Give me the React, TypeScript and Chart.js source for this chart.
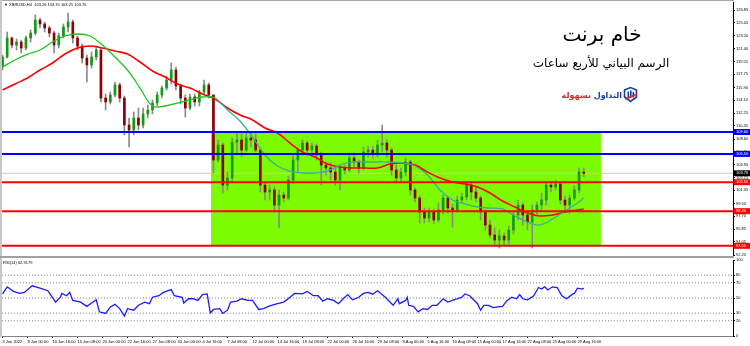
import React, { useEffect, useRef } from "react";
import { Chart, registerables } from "chart.js";

Chart.register(...registerables);

// ---------- data (XBRUSD H4, one drawn candle per 3 H4 bars) ----------
const opens = [
  118.79, 120.21, 122.9, 121.9, 122.33, 121.48, 122.9, 123.6, 125.44, 124.88,
  124.31, 123.6, 121.9, 123.18, 124.45, 125.16, 122.9, 121.76, 120.07, 119.08,
  120.21, 121.2, 114.41, 113.84, 114.83, 116.25, 114.41, 110.59, 109.88, 111.58,
  110.59, 112.15, 112.71, 113.7, 114.83, 115.82, 116.96, 118.37, 116.11, 114.41,
  112.99, 114.55, 113.84, 115.26, 116.25, 114.83, 105.64, 107.76, 102.1, 103.09,
  108.19, 108.47, 107.05, 108.75, 108.47, 107.05, 102.1, 101.11, 101.4, 99.26,
  100.69, 100.26, 102.81, 105.64, 107.05, 108.04, 107.05, 107.62, 106.35, 104.93,
  104.51, 103.94, 102.81, 104.51, 104.23, 105.92, 105.36, 104.51, 106.77, 107.05,
  106.63, 107.76, 108.04, 107.05, 104.23, 103.09, 103.94, 105.36, 101.4, 100.26,
  98.29, 97.44, 98.29, 97.15, 98.57, 100.26, 98.85, 98.57, 99.98, 100.41,
  102.1, 101.11, 100.26, 98.29, 96.45, 95.03, 94.32, 94.89, 94.32, 95.74,
  97.86, 99.26, 97.86, 96.87, 98.57, 99.26, 99.98, 102.1, 101.82, 102.25,
  99.98, 99.26, 100.26, 101.4, 103.94,
];
const closes = [
  120.21, 122.9, 121.9, 122.33, 121.48, 122.9, 123.6, 125.44, 124.88, 124.31,
  123.6, 121.9, 123.18, 124.45, 125.16, 122.9, 121.76, 120.07, 119.08, 120.21,
  121.2, 114.41, 113.84, 114.83, 116.25, 114.41, 110.59, 109.88, 111.58, 110.59,
  112.15, 112.71, 113.7, 114.83, 115.82, 116.96, 118.37, 116.11, 114.41, 112.99,
  114.55, 113.84, 115.26, 116.25, 114.83, 105.64, 107.76, 102.1, 103.09, 108.19,
  108.47, 107.05, 108.75, 108.47, 107.05, 102.1, 101.11, 101.4, 99.26, 100.69,
  100.26, 102.81, 105.64, 107.05, 108.04, 107.05, 107.62, 106.35, 104.93, 104.51,
  103.94, 102.81, 104.51, 104.23, 105.92, 105.36, 104.51, 106.77, 107.05, 106.63,
  107.76, 108.04, 107.05, 104.23, 103.09, 103.94, 105.36, 101.4, 100.26, 98.29,
  97.44, 98.29, 97.15, 98.57, 100.26, 98.85, 98.57, 99.98, 100.41, 102.1,
  101.11, 100.26, 98.29, 96.45, 95.03, 94.32, 94.89, 94.32, 95.74, 97.86,
  99.26, 97.86, 96.87, 98.57, 99.26, 99.98, 102.1, 101.82, 102.25, 99.98,
  99.26, 100.26, 101.4, 103.94, 103.76,
];
const highs = [
  120.49, 123.74, 123.04, 122.75, 122.61, 123.18, 124.03, 126.15, 125.72, 125.16,
  124.59, 123.89, 123.6, 124.88, 126.43, 125.44, 123.18, 122.05, 120.49, 120.92,
  121.76, 121.48, 114.97, 115.26, 116.67, 116.53, 114.69, 111.58, 112.43, 112.99,
  112.99, 113.42, 114.13, 115.26, 116.11, 117.52, 119.36, 118.79, 116.39, 114.83,
  114.97, 114.97, 115.54, 116.96, 116.53, 114.83, 108.47, 108.04, 103.94, 108.75,
  109.46, 109.32, 109.46, 109.46, 109.32, 107.34, 102.53, 102.1, 101.82, 101.4,
  101.11, 103.38, 106.35, 107.34, 108.47, 108.33, 108.04, 107.9, 106.77, 105.36,
  105.22, 104.65, 104.79, 104.93, 106.63, 106.63, 105.64, 107.48, 107.62, 107.62,
  108.47, 110.59, 108.47, 107.34, 104.93, 104.51, 105.92, 105.64, 101.68, 100.55,
  98.85, 98.85, 98.71, 99.56, 100.69, 100.55, 99.42, 100.55, 100.97, 102.53,
  102.39, 101.82, 100.55, 98.57, 97.15, 96.02, 95.74, 95.31, 96.3, 98.29,
  99.98, 99.56, 98.57, 99.26, 99.7, 100.97, 102.53, 102.53, 102.81, 102.53,
  100.55, 100.69, 101.96, 104.51, 104.51,
];
const lows = [
  118.37, 120.07, 121.48, 121.2, 120.77, 121.2, 122.33, 123.32, 124.31, 123.74,
  123.04, 120.77, 121.48, 122.9, 123.74, 122.19, 121.2, 119.36, 116.67, 118.65,
  119.78, 113.84, 112.71, 113.56, 114.55, 113.84, 109.18, 107.48, 109.18, 109.88,
  110.17, 111.58, 112.15, 113.28, 114.41, 115.54, 116.39, 115.54, 113.56, 111.72,
  112.71, 113.28, 113.28, 114.97, 114.41, 103.8, 105.36, 100.97, 101.4, 102.53,
  106.35, 106.06, 106.77, 107.48, 106.77, 101.11, 99.98, 99.98, 98.29, 96.02,
  99.7, 99.98, 102.25, 103.8, 106.35, 106.21, 106.06, 105.64, 102.1, 103.52,
  102.81, 102.1, 101.4, 103.66, 103.94, 104.65, 103.8, 104.23, 106.06, 105.92,
  106.06, 106.77, 106.06, 103.52, 102.39, 102.53, 103.38, 100.69, 99.7, 96.73,
  96.73, 96.87, 96.59, 96.87, 98.0, 98.14, 96.16, 98.29, 99.56, 99.98,
  99.98, 99.7, 97.15, 95.74, 94.6, 93.48, 93.19, 93.48, 93.76, 95.17,
  97.15, 96.45, 95.74, 93.19, 98.0, 98.57, 99.26, 101.11, 101.4, 99.42,
  98.57, 98.14, 99.98, 100.97, 103.24,
];
const CANDLE_STEP = 3;

const maBars = [
  0, 8, 16, 24, 32, 40, 48, 56, 64, 72, 80, 88, 96, 104, 112, 120, 128, 136, 144, 152,
  160, 168, 176, 184, 192, 200, 208, 216, 224, 232, 240, 248, 256, 264, 272, 280, 288,
  296, 304, 312, 320, 328, 336, 344, 352, 360, 368, 372,
];
const greenMA = [
  118.79, 119.78, 120.63, 121.2, 122.33, 123.18, 123.46, 123.18, 121.9, 120.21,
  118.37, 115.82, 113.28, 113.28, 113.7, 114.13, 114.55, 114.41, 112.71, 111.16,
  108.89, 106.35, 104.79, 104.08, 103.8, 103.8, 104.08, 104.93, 105.36, 105.36,
  105.36, 105.36, 105.22, 104.79, 103.52, 101.4, 99.98, 99.42, 98.99, 98.85,
  98.71, 97.72, 96.87, 96.45, 97.29, 98.43, 99.56, 100.26,
];
const redMA = [
  115.54, 116.39, 117.24, 118.37, 119.36, 120.63, 121.48, 121.76, 121.48, 121.06,
  120.63, 119.5, 118.23, 117.38, 116.39, 115.82, 114.97, 114.27, 112.99, 112.0,
  111.3, 110.17, 109.46, 108.04, 106.77, 106.06, 105.07, 104.65, 104.51, 104.51,
  104.51, 105.07, 105.22, 104.93, 103.94, 103.09, 102.53, 102.25, 101.82, 100.97,
  99.84, 98.99, 98.14, 97.72, 97.86, 98.29, 98.57, 98.71,
];

const rsiBars = [
  0, 3, 7, 11, 14, 19, 24, 29, 34, 37, 38, 41, 43, 45, 50, 54, 57, 60, 62, 66,
  69, 72, 75, 78, 80, 84, 87, 91, 94, 96, 100, 103, 106, 108, 110, 115, 116, 119, 122, 125,
  128, 131, 133, 135, 139, 141, 144, 146, 150, 153, 157, 160, 164, 167, 171, 176, 180, 184, 187, 192,
  195, 199, 202, 205, 208, 212, 215, 218, 221, 224, 228, 231, 234, 237, 240, 245, 250, 253, 254, 258,
  259, 260, 263, 266, 269, 272, 275, 278, 280, 282, 285, 288, 291, 294, 296, 299, 302, 304, 306, 308,
  311, 314, 317, 320, 323, 326, 329, 331, 333, 336, 340, 343, 345, 347, 349, 352, 355, 358, 361, 365,
  366, 368, 371, 372,
];
const rsiValues = [
  55.4, 64.7, 58.7, 56, 57.4, 66, 63, 59.6, 44.6, 51, 56, 53, 57.4, 46.8, 44.6, 39, 43.4, 47.6, 31.8, 29.7,
  38.2, 41.6, 36, 26.3, 36, 34, 40.4, 44.6, 42.5, 51, 53, 57.4, 59.6, 61, 53, 51, 43.4, 49, 49, 46.8,
  54.5, 55.4, 30.5, 34.9, 36, 29.7, 34, 44.6, 45.9, 49, 46.8, 46.8, 34.9, 36, 39.5, 42.5, 44.6, 51, 56, 55.4,
  58.7, 53, 53, 45.9, 49, 46.8, 42.5, 49, 54.5, 47.6, 51, 56, 57.4, 55, 59.6, 51, 40.4, 49, 42.5, 46.8,
  51, 40.4, 39, 31.8, 36, 34.9, 40.4, 40.4, 44.6, 49, 44.6, 46.8, 49, 51, 55.4, 53, 46.8, 42.5, 34, 40.4,
  40.4, 37.4, 38.2, 39, 46.8, 51, 49, 54.5, 49, 47.6, 53, 63.8, 61.8, 64.7, 60.5, 64.7, 63.8, 53, 49, 55.4,
  56, 63, 61.8, 62.9,
];

const priceTicks = [
  126.85, 125.05, 123.2, 121.4, 119.55, 117.75, 115.9, 114.1, 112.25, 110.45,
  108.6, 106.8, 104.95, 103.15, 101.35, 99.5, 97.7, 95.85, 94.05, 92.2,
];
const rsiTicks = [0, 20, 30, 50, 70, 80, 100];
const rsiLevels = [80, 70, 50, 30, 20];
const dateLabels = [
  "3 Jun 2022", "8 Jun 00:00", "10 Jun 16:00", "15 Jun 08:00", "20 Jun 00:00", "22 Jun 16:00",
  "27 Jun 08:00", "30 Jun 00:00", "4 Jul 16:00", "7 Jul 08:00", "12 Jul 00:00", "14 Jul 16:00",
  "19 Jul 08:00", "22 Jul 00:00", "26 Jul 16:00", "29 Jul 08:00", "3 Aug 00:00", "5 Aug 16:00",
  "10 Aug 08:00", "15 Aug 00:00", "17 Aug 16:00", "22 Aug 08:00", "25 Aug 00:00", "29 Aug 16:00",
];
const DATE_STEP = 16;

const blueLevels = [109.6, 106.5];
const redLevels = [102.5, 98.4, 93.5];
const currentPrice = 103.76;
const zoneStartBar = 133.4;
const zoneEndBar = 383;
const zoneTop = 109.6;
const zoneBottom = 93.5;

const headerText = "XBRUSD,H4  103.26 103.70 103.25 103.76";
const rsiHeader = "RSI(14) 62.9179";

// ---------- config ----------
const X_MIN = -0.32;
const X_MAX = 467.52;
const P_MIN = 92.06;
const P_MAX = 127.99;
const TICK_FONT = { size: 4, family: "'Liberation Sans', Arial, sans-serif" };
const BULL = "#139a13";
const BEAR = "#8b0000";

const hLine = (v: number, color: string, width: number, order: number, dash?: number[]) => ({
  type: "line" as const,
  data: [{ x: X_MIN - 2, y: v }, { x: X_MAX + 2, y: v }],
  borderColor: color,
  borderWidth: width,
  borderDash: dash || [],
  pointRadius: 0,
  order,
});

export default function App() {
  const mainRef = useRef<HTMLCanvasElement>(null);
  const rsiRef = useRef<HTMLCanvasElement>(null);

  useEffect(() => {
    const mainCtx = mainRef.current!.getContext("2d")!;
    const rsiCtx = rsiRef.current!.getContext("2d")!;

    const wicks = highs.map((h, i) => ({ x: i * CANDLE_STEP, y: [lows[i], h] }));
    const bodies = opens.map((o, i) => ({ x: i * CANDLE_STEP, y: [o, closes[i]] }));
    const bodyColors = opens.map((o, i) => (closes[i] >= o ? BULL : BEAR));

    const labelBoxes = {
      id: "labelBoxes",
      afterDraw(chart: any) {
        const { ctx, chartArea, scales } = chart;
        const ys = scales.y;
        const boxes: [number, string][] = [
          ...blueLevels.map((v) => [v, "#0000ff"] as [number, string]),
          ...redLevels.map((v) => [v, "#ff0000"] as [number, string]),
          [currentPrice, "#000000"],
        ];
        ctx.save();
        ctx.font = "4px 'Liberation Sans', Arial, sans-serif";
        ctx.textBaseline = "middle";
        ctx.textAlign = "left";
        for (const [v, c] of boxes) {
          const py = ys.getPixelForValue(v);
          ctx.fillStyle = c;
          ctx.fillRect(chartArea.right + 1, py - 3, 16, 6);
          ctx.fillStyle = "#ffffff";
          ctx.fillText(v.toFixed(2), chartArea.right + 3, py);
        }
        ctx.fillStyle = "#000";
        ctx.font = "4px 'Liberation Sans', Arial, sans-serif";
        ctx.fillText("\u25BC " + headerText, chartArea.left + 2, 5);
        ctx.restore();
      },
    };

    const rsiHeaderPlugin = {
      id: "rsiHeader",
      afterDraw(chart: any) {
        const { ctx, chartArea } = chart;
        ctx.save();
        ctx.fillStyle = "#000";
        ctx.font = "4px 'Liberation Sans', Arial, sans-serif";
        ctx.textBaseline = "middle";
        ctx.fillText(rsiHeader, chartArea.left + 1, chartArea.top + 3);
        ctx.restore();
      },
    };

    const mainChart = new Chart(mainCtx, {
      type: "bar",
      data: {
        datasets: [
          ...blueLevels.map((v) => hLine(v, "#0000ff", 2, 1)),
          ...redLevels.map((v) => hLine(v, "#ff0000", 2, 1)),
          {
            type: "line",
            data: maBars.map((b, i) => ({ x: b, y: greenMA[i] })),
            borderColor: "#1fc41f",
            borderWidth: 1.3,
            pointRadius: 0,
            tension: 0.4,
            order: 5,
            segment: {
              borderColor: (c: any) =>
                c.p0.parsed.x >= zoneStartBar && c.p1.parsed.x <= zoneEndBar ? "#34b39a" : "#1fc41f",
            },
          } as any,
          {
            type: "line",
            data: maBars.map((b, i) => ({ x: b, y: redMA[i] })),
            borderColor: "#ff0000",
            borderWidth: 1.6,
            pointRadius: 0,
            tension: 0.4,
            order: 6,
          },
          {
            type: "bar",
            data: bodies as any,
            backgroundColor: bodyColors,
            barThickness: 2,
            grouped: false,
            minBarLength: 1,
            order: 11,
          },
          {
            type: "bar",
            data: wicks as any,
            backgroundColor: "#8a8a8a",
            barThickness: 1,
            grouped: false,
            order: 12,
          },
          hLine(currentPrice, "#c8c8c8", 1, 15),
          {
            type: "line",
            data: [{ x: zoneStartBar, y: zoneTop }, { x: zoneEndBar, y: zoneTop }],
            borderColor: "rgba(0,0,0,0)",
            backgroundColor: "#7cfc00",
            fill: { value: zoneBottom },
            pointRadius: 0,
            order: 20,
          } as any,
        ] as any,
      },
      options: {
        responsive: false,
        animation: false,
        events: [],
        layout: { padding: { left: 2, top: 2, right: 0, bottom: 2 } },
        plugins: { legend: { display: false }, tooltip: { enabled: false } },
        scales: {
          x: { type: "linear", min: X_MIN, max: X_MAX, offset: false, display: false },
          y: {
            type: "linear",
            position: "right",
            min: P_MIN,
            max: P_MAX,
            afterFit: (s: any) => {
              s.width = 17;
              s.paddingTop = 0;
              s.paddingBottom = 0;
            },
            afterBuildTicks: (s: any) => {
              s.ticks = priceTicks.map((v) => ({ value: v }));
            },
            ticks: {
              font: TICK_FONT,
              color: "#000",
              padding: 1,
              callback: (v: any) => Number(v).toFixed(2),
            },
            grid: { drawOnChartArea: false, drawTicks: true, tickLength: 2, color: "#000" },
            border: { display: true, color: "#000", width: 1 },
          },
        },
      } as any,
      plugins: [labelBoxes],
    });

    const rsiChart = new Chart(rsiCtx, {
      type: "line",
      data: {
        datasets: [
          {
            data: rsiBars.map((b, i) => ({ x: b, y: rsiValues[i] })),
            borderColor: "#1a1aff",
            borderWidth: 1.3,
            pointRadius: 0,
            tension: 0,
            order: 1,
          },
          ...rsiLevels.map((v) => hLine(v, "#7a7a7a", 1, 5, [1, 2])),
        ] as any,
      },
      options: {
        responsive: false,
        animation: false,
        events: [],
        layout: { padding: { left: 2, top: 2, right: 0, bottom: 0 } },
        plugins: { legend: { display: false }, tooltip: { enabled: false } },
        scales: {
          x: {
            type: "linear",
            min: X_MIN,
            max: X_MAX,
            offset: false,
            position: "bottom",
            afterBuildTicks: (s: any) => {
              s.ticks = dateLabels.map((_, i) => ({ value: i * DATE_STEP }));
            },
            afterFit: (s: any) => {
              s.height = 10;
              s.paddingLeft = 0;
              s.paddingRight = 0;
            },
            ticks: {
              autoSkip: false,
              maxRotation: 0,
              minRotation: 0,
              align: "start",
              font: TICK_FONT,
              color: "#000",
              padding: 1,
              callback: (_v: any, i: number) => dateLabels[i],
            },
            grid: { drawOnChartArea: false, drawTicks: true, tickLength: 2, color: "#000" },
            border: { display: true, color: "#808080", width: 1 },
          },
          y: {
            type: "linear",
            position: "right",
            min: 0,
            max: 100,
            afterFit: (s: any) => {
              s.width = 17;
              s.paddingTop = 0;
              s.paddingBottom = 0;
            },
            afterBuildTicks: (s: any) => {
              s.ticks = rsiTicks.map((v) => ({ value: v }));
            },
            ticks: { font: TICK_FONT, color: "#000", padding: 1 },
            grid: { drawOnChartArea: false, drawTicks: true, tickLength: 2, color: "#000" },
            border: { display: true, color: "#000", width: 1 },
          },
        },
      } as any,
      plugins: [rsiHeaderPlugin],
    });

    return () => {
      mainChart.destroy();
      rsiChart.destroy();
    };
  }, []);

  return (
    <div
      style={{
        position: "fixed",
        left: 0,
        top: 0,
        width: 750,
        height: 346,
        background: "#fff",
        overflow: "hidden",
        fontFamily: "'DejaVu Sans', sans-serif",
      }}
    >
      <canvas ref={mainRef} width={750} height={258} style={{ position: "absolute", left: 0, top: 0 }} />
      <canvas ref={rsiRef} width={750} height={88} style={{ position: "absolute", left: 0, top: 258 }} />
      <div style={{ position: "absolute", left: 0, top: 0, width: 734, height: 1, background: "#a8a8a8" }} />
      <div style={{ position: "absolute", left: 0, top: 0, width: 2, height: 337, background: "#c8c8c8" }} />
      <div style={{ position: "absolute", left: 0, top: 256, width: 734, height: 2, background: "#a0a0a0" }} />
      <div
        dir="rtl"
        style={{
          position: "absolute",
          left: 502,
          top: 22,
          width: 200,
          textAlign: "center",
          fontSize: 20,
          color: "#000",
          lineHeight: "24px",
        }}
      >
        خام برنت
      </div>
      <div
        dir="rtl"
        style={{
          position: "absolute",
          left: 501,
          top: 56,
          width: 200,
          textAlign: "center",
          fontSize: 12,
          color: "#000",
          lineHeight: "15px",
        }}
      >
        الرسم البياني للأربع ساعات
      </div>
      <div
        dir="rtl"
        style={{
          position: "absolute",
          left: 520,
          top: 90,
          width: 102,
          textAlign: "right",
          fontSize: 8,
          fontWeight: "bold",
          lineHeight: "11px",
        }}
      >
        <span style={{ color: "#1b3f94" }}>التداول</span>{" "}
        <span style={{ color: "#e3202a" }}>بسهولة</span>
      </div>
      <svg
        width={15}
        height={17}
        viewBox="0 0 15 17"
        style={{ position: "absolute", left: 623, top: 86 }}
      >
        <path d="M1.5 4 L7.5 1.5 L13.5 4 L13.5 11 L7.5 15.5 L1.5 11 Z" fill="none" stroke="#1b3f94" strokeWidth={1.6} />
        <rect x={4.5} y={5.5} width={1.6} height={6} fill="#1b3f94" />
        <rect x={7} y={4.5} width={1.6} height={7} fill="#1b3f94" />
        <rect x={9.5} y={6} width={1.6} height={5.5} fill="#1b3f94" />
        <path d="M2 13 Q8 11 14 8" fill="none" stroke="#e3202a" strokeWidth={1.4} />
      </svg>
    </div>
  );
}
